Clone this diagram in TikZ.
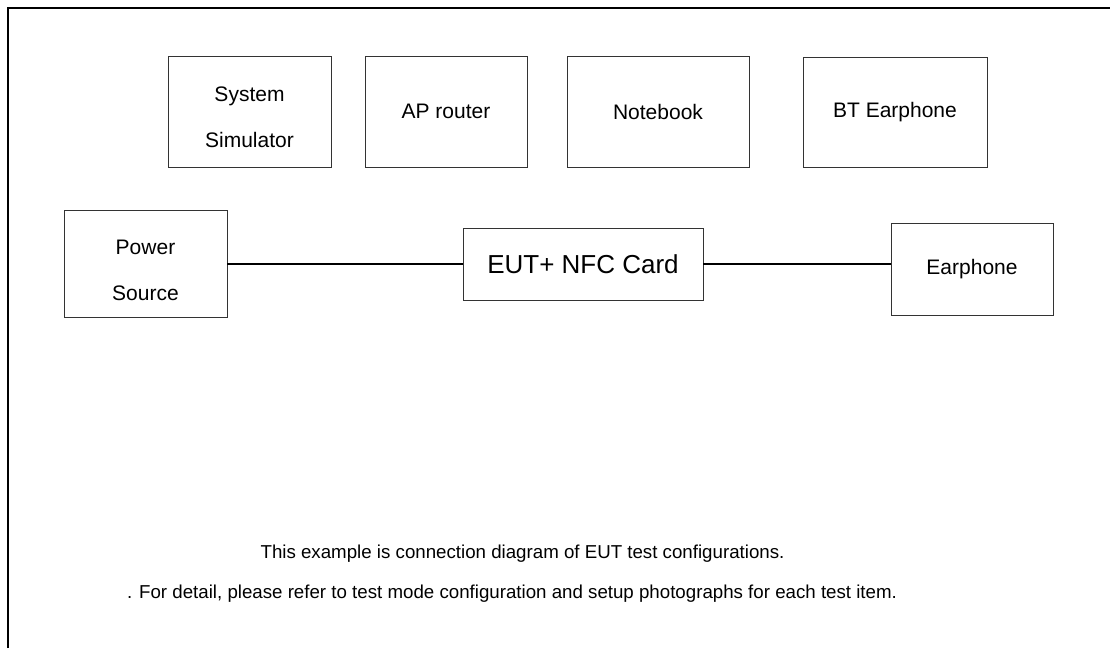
\documentclass[tikz,border=0pt]{standalone}
\usepackage{fontspec}
\setmainfont{Liberation Sans}
\begin{document}
\begin{tikzpicture}[x=1pt,y=-1pt,
  box/.style={draw=black!80, line width=0.9pt, rectangle, inner sep=0pt, align=center,
    font=\fontsize{21}{46}\selectfont},
  boxtext/.style={inner sep=0pt, align=center, font=\fontsize{21}{46}\selectfont},
  wire/.style={draw=black, line width=1.5pt},
  note/.style={inner sep=0pt, font=\fontsize{18.7}{22}\selectfont}]
\useasboundingbox (0,0) rectangle (1110,648);
\draw[line width=2.5pt] (8,648) -- (8,8) -- (1110,8);
\node[box, minimum width=163pt, minimum height=111pt] (sim) at (249.5,111.5) {};
\node[boxtext] (simt) at ([yshift=-6pt]sim.center) {System\\Simulator};
\node[box, minimum width=162pt, minimum height=111pt] (ap) at (446,111.5) {AP router};
\node[box, minimum width=182pt, minimum height=111pt] (nb) at (658,111.5) {Notebook};
\node[box, minimum width=184pt, minimum height=110pt] (bt) at (895,112) {BT Earphone};
\node[box, minimum width=163pt, minimum height=107pt] (ps) at (145.5,263.5) {};
\node[boxtext] (pst) at ([yshift=-6.5pt]ps.center) {Power\\Source};
\node[box, minimum width=240pt, minimum height=72pt, font=\fontsize{26}{30}\selectfont] (eut) at (583,264) {EUT+ NFC Card};
\node[box, minimum width=162pt, minimum height=92pt] (ep) at (972,269) {Earphone};
\draw[wire] (ps.east |- eut.west) -- (eut.west);
\draw[wire] (eut.east) -- (ep.west |- eut.east);
\node[note] (n1) at (522.5,554) {This example is connection diagram of EUT test configurations.};
\node[note] (n2) at (512,594) {. For detail, please refer to test mode configuration and setup photographs for each test item.};
\end{tikzpicture}
\end{document}
